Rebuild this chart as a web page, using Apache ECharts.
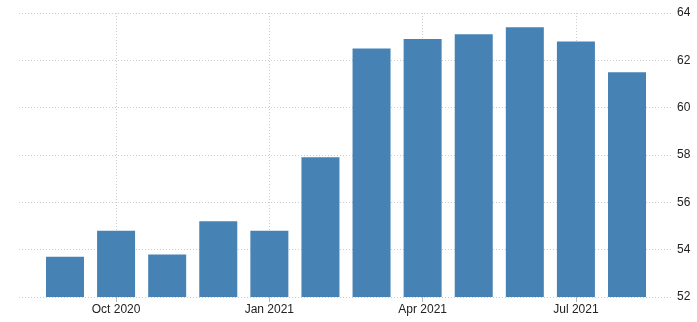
<!DOCTYPE html>
<html>
<head>
<meta charset="utf-8">
<script src="https://cdn.jsdelivr.net/npm/echarts@6/dist/echarts.min.js"></script>
<style>html,body{margin:0;padding:0;background:#fff}#c{width:697px;height:322px}</style>
</head>
<body>
<div id="c"></div>
<script>
const months = ['Sep 2020','Oct 2020','Nov 2020','Dec 2020','Jan 2021','Feb 2021','Mar 2021','Apr 2021','May 2021','Jun 2021','Jul 2021','Aug 2021'];
const values = [53.7, 54.8, 53.8, 55.2, 54.8, 57.9, 62.5, 62.9, 63.1, 63.4, 62.8, 61.5];
const xTickLabels = ['Oct 2020','Jan 2021','Apr 2021','Jul 2021'];
const yTicks = [52, 54, 56, 58, 60, 62, 64];

const xTickIdx = xTickLabels.map(l => months.indexOf(l));
const chart = echarts.init(document.getElementById('c'), null, {renderer:'canvas'});
chart.setOption({
  animation: false,
  grid: {left: 19, right: 24, top: 13, bottom: 25, containLabel: false},
  xAxis: {
    type: 'value', min: -0.9, max: 11.9,
    axisLine: {show: false},
    axisTick: {show: true, customValues: xTickIdx, length: 5, lineStyle: {color: '#bbb'}},
    axisLabel: {customValues: xTickIdx, formatter: v => months[Math.round(v)], color: '#222',
      fontFamily: 'Liberation Sans', fontSize: 12, margin: 7},
    splitLine: {show: true, lineStyle: {color: '#ccc', type: [1, 2], width: 1}}
  },
  yAxis: {
    type: 'value', position: 'right', min: 52, max: 64, interval: 2,
    axisLine: {show: false}, axisTick: {show: false},
    axisLabel: {color: '#222', fontFamily: 'Liberation Sans', fontSize: 12, margin: 4,
      formatter: v => yTicks.includes(v) ? String(v) : ''},
    splitLine: {show: true, lineStyle: {color: '#ccc', type: [1, 2], width: 1}}
  },
  series: [{
    type: 'bar',
    data: values.map((v, i) => [i, v]),
    barWidth: 38,
    itemStyle: {color: '#4682B4'}
  }]
});
</script>
</body>
</html>
